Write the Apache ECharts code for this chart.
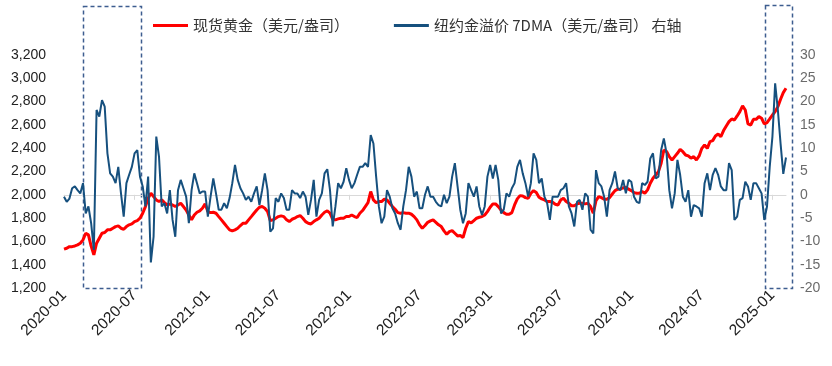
<!DOCTYPE html>
<html>
<head>
<meta charset="utf-8">
<script src="https://cdn.jsdelivr.net/npm/echarts@6/dist/echarts.min.js"></script>
<style>html,body{margin:0;padding:0;background:#fff}#c{width:832px;height:366px}</style>
</head>
<body>
<div id="c"></div>
<script>
// Weekly observations starting 2020-01-01
const startDate = '2020-01-01';
const tickLabels = ['2020-01','2020-07','2021-01','2021-07','2022-01','2022-07','2023-01','2023-07','2024-01','2024-07','2025-01'];
const leftTicks = [1200, 3200, 200];
const rightTicks = [-20, 30, 5];

const goldSpot = [
1533,1541,1555,1555,1561,1570,1584,1613,1670,1656,1560,1484,1584,1627,1670,1676,1699,1699,1713,1727,1733,1713,1704,1727,1742,1750,1770,1779,1799,1842,1899,1970,2013,1985,1956,1942,1956,1933,1913,1920,1913,1899,1913,1927,1899,
1870,1827,1785,1827,1850,1862,1885,1922,1856,1847,1850,1842,1813,1785,1756,1727,1699,1690,1699,1713,1736,1756,1756,1785,1813,1842,1870,1893,1899,1885,1856,1779,1785,1799,1813,1819,1813,1785,1770,1790,1799,1813,1822,1799,1770,1756,
1750,1770,1785,1799,1827,1850,1862,1842,1790,1785,1793,1799,1799,1813,1813,1827,1813,1805,1842,1865,1899,1933,2028,1956,1933,1942,1942,1962,1956,1927,1899,1876,1847,1842,1847,1842,1842,1833,1813,1785,1742,1713,1736,1764,1776,1785,
1764,1742,1727,1690,1661,1684,1693,1670,1647,1650,1633,1713,1770,1759,1779,1799,1807,1813,1827,1856,1893,1922,1922,1899,1870,1847,1833,1833,1847,1913,1965,1993,1990,1976,1970,2013,2036,2019,1979,1965,1956,1942,1942,1936,1919,1913,
1956,1970,1942,1927,1905,1905,1922,1927,1927,1922,1927,1899,1842,1950,1985,1976,1962,1962,1976,2007,2036,2048,2050,2059,2065,2048,2036,2019,2013,2013,2028,2013,2042,2099,2142,2170,2199,2271,2385,2371,2328,2299,2328,2356,2390,2370,
2342,2334,2314,2328,2299,2334,2399,2428,2399,2457,2465,2505,2522,2499,2551,2591,2628,2651,2642,2677,2714,2763,2728,2608,2599,2648,2648,2671,2657,2608,2620,2651,2685,2714,2757,2820,2877,2914
];

const nyPremium7dma = [
-0.4,-1.5,-0.8,1.4,1.8,1.0,0.3,2.5,-4,-2.5,-6.1,-11.8,18.2,16.8,20.3,18.9,8.9,4.6,3.9,2.5,6,0.3,-4.7,2.5,4.3,6,8.9,9.6,3.9,1.8,-2.5,3.9,-14.5,-9,12.5,8.2,-2.5,-1.8,-4,1,-5.4,-9,1,3.2,1.4,
-0.4,-6.1,1.0,4.6,2.5,0.3,0.7,0.7,-4.7,-0.4,3.5,0.3,-3.2,-3.2,-1.8,-2.9,-0.7,2.5,6.4,3.2,1.4,0.3,-1.1,-0.4,-1.5,0.3,1.8,-2.2,1.0,4.6,1.0,-7.9,-7.2,-0.7,-1.5,0.3,-0.7,-3.2,-3.2,1.0,0.3,0.3,-0.7,0.7,-0.4,-4.3,
-1.1,3.2,-4.7,-1.1,0.3,4.6,5.5,1.0,-6.8,-2.5,2.5,1.4,2.8,5.7,3.2,1.4,2.5,4.3,6.0,6.0,6.8,6.0,12.8,11.0,3.9,-2.5,-6.1,-4.7,1.0,-0.4,-2.9,-4.0,-6.1,-7.5,-2.5,1.0,6.0,3.9,-0.4,0.7,-2.9,-2.9,0.0,1.8,-0.4,-0.4,
-1.5,-2.2,-2.5,0.0,-1.8,-0.4,3.9,6.8,1.8,-3.2,-6.1,-4.0,2.5,1.0,-0.4,1.8,-2.5,-4.3,-2.5,3.9,6.4,3.5,6.4,3.2,-4.0,-3.2,0.3,-0.4,1.4,2.5,6.0,7.5,4.6,2.5,-0.4,2.5,8.9,7.5,2.5,3.5,-0.4,-1.8,-5.4,-0.4,-0.4,-0.4,
1.0,1.4,2.5,-2.5,-4.0,-6.8,-1.5,-1.1,-3.2,0.3,-0.4,-7.5,-8.3,5.3,2.5,1.8,-0.4,-4.7,1.0,2.5,5.0,1.4,1.0,3.2,0.3,3.2,2.8,-0.4,-1.5,-1.8,2.5,2.1,2.8,7.8,8.9,3.5,3.9,9.6,12.1,8.9,1.0,-2.9,0.3,7.5,4.3,-0.4,
-1.5,1.0,-4.7,-2.2,-2.5,-2.9,-4.7,2.5,4.6,1.0,4.3,5.7,4.3,1.8,1.0,1.0,6.8,5.3,-5.4,-4.7,-1.1,-0.7,2.8,1.8,-1.1,2.5,2.5,1.4,0.3,-5.4,-2.5,6.0,12.5,23.9,18.2,11.0,4.5,8
];

const seriesNames = ['现货黄金（美元/盎司）', '纽约金溢价 7DMA（美元/盎司） 右轴'];

// weekly category dates
const dates = [];
{
  const d0 = new Date(startDate + 'T00:00:00Z');
  for (let i = 0; i < goldSpot.length; i++) {
    const d = new Date(d0.getTime() + i * 7 * 86400000);
    dates.push(d.toISOString().slice(0, 10));
  }
}
function isTick(index, value) {
  const m = value.slice(0, 7);
  if (tickLabels.indexOf(m) < 0) return false;
  return index === 0 || dates[index - 1].slice(0, 7) !== m;
}

const chart = echarts.init(document.getElementById('c'), null, {renderer: 'canvas'});
chart.setOption({
  animation: false,
  backgroundColor: '#fff',
  grid: {left: 64, right: 46, top: 55, bottom: 78},
  legend: {
    left: 148, top: 13,
    itemWidth: 35, itemHeight: 3, itemGap: 45,
    icon: 'rect',
    textStyle: {fontSize: 15, color: '#333', fontFamily: 'Noto Sans CJK SC'},
    data: seriesNames
  },
  xAxis: {
    type: 'category',
    data: dates,
    boundaryGap: false,
    axisLine: {lineStyle: {color: '#d9d9d9', width: 1}},
    axisTick: {show: true, interval: isTick, length: 5, lineStyle: {color: '#d9d9d9'}},
    axisLabel: {
      interval: isTick, rotate: 45, margin: 5,
      formatter: v => v.slice(0, 7),
      fontSize: 15.5, color: '#222', fontFamily: 'Liberation Sans'
    },
    splitLine: {show: false}
  },
  yAxis: [
    {
      type: 'value', min: leftTicks[0], max: leftTicks[1], interval: leftTicks[2],
      axisLine: {show: false}, axisTick: {show: false}, splitLine: {show: false},
      axisLabel: {margin: 18, fontSize: 14, color: '#222', fontFamily: 'Liberation Sans',
        formatter: v => v.toLocaleString('en-US')}
    },
    {
      type: 'value', min: rightTicks[0], max: rightTicks[1], interval: rightTicks[2],
      axisLine: {show: false}, axisTick: {show: false}, splitLine: {show: false},
      axisLabel: {margin: 14, fontSize: 14, color: '#6b6b6b', fontFamily: 'Liberation Sans'}
    }
  ],
  series: [
    {
      name: seriesNames[0], type: 'line', yAxisIndex: 0, data: goldSpot,
      showSymbol: false, symbol: 'none',
      lineStyle: {color: '#ff0000', width: 3}, itemStyle: {color: '#ff0000'}
    },
    {
      name: seriesNames[1], type: 'line', yAxisIndex: 1, data: nyPremium7dma,
      showSymbol: false, symbol: 'none',
      lineStyle: {color: '#16507e', width: 2}, itemStyle: {color: '#16507e'}
    }
  ],
  graphic: [
    {type: 'rect', shape: {x: 83.5, y: 6.5, width: 58, height: 282},
     style: {fill: 'none', stroke: '#3d5d8f', lineWidth: 1.5, lineDash: [4, 3]}},
    {type: 'rect', shape: {x: 765.5, y: 5.5, width: 27, height: 283},
     style: {fill: 'none', stroke: '#3d5d8f', lineWidth: 1.5, lineDash: [4, 3]}}
  ]
});
</script>
</body>
</html>
